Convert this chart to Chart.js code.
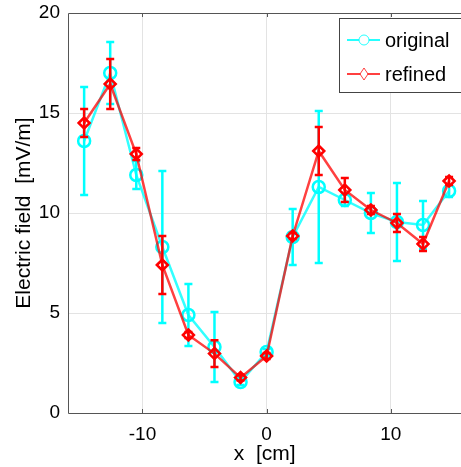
<!DOCTYPE html>
<html>
<head>
<meta charset="utf-8">
<script src="https://cdn.jsdelivr.net/npm/chart.js@4/dist/chart.umd.min.js"></script>
<style>
  html, body { margin: 0; padding: 0; background: #fff; overflow: hidden; }
  #wrap { width: 470px; height: 467px; }
</style>
</head>
<body>
<div id="wrap"><canvas id="chartField"></canvas></div>
<script>
// positions along x [cm]
const xPos = [-14.7, -12.6, -10.5, -8.4, -6.3, -4.2, -2.1, 0, 2.1, 4.2, 6.3, 8.4, 10.5, 12.6, 14.7];
// original measurement + error
const originalVals = [13.6, 17.0, 11.9, 8.3, 4.9, 3.3, 1.55, 3.05, 8.8, 11.3, 10.65, 10.0, 9.55, 9.4, 11.1];
const originalErr  = [2.7, 1.55, 0.7, 3.8, 1.55, 1.75, 0.15, 0.15, 1.4, 3.8, 0.3, 1.0, 1.95, 1.2, 0.3];
// refined
const refinedVals = [14.5, 16.45, 12.95, 7.4, 3.9, 2.97, 1.77, 2.85, 8.85, 13.1, 11.15, 10.15, 9.5, 8.45, 11.6];
const refinedErr  = [0.7, 1.25, 0.3, 1.45, 0.15, 0.67, 0.15, 0.15, 0.15, 1.2, 0.6, 0.2, 0.45, 0.35, 0.2];

const xTicks = [-10, 0, 10];
const seriesNames = ["original", "refined"];

const FONT = "'Liberation Sans', Arial, sans-serif";
const CYAN = "#00ffff";
const RED = "#ff0000";

const toPoints = (vals) => vals.map((v, i) => ({ x: xPos[i], y: v }));

// error bars, drawn under each dataset's own line
const errorBars = {
  id: "errorBars",
  beforeDatasetDraw(chart, args) {
    const ds = chart.data.datasets[args.index];
    if (!ds.errors) return;
    const { ctx, scales } = chart;
    ctx.save();
    ctx.strokeStyle = ds.errColor;
    ctx.lineWidth = ds.errWidth;
    ds.data.forEach((p, i) => {
      const px = scales.x.getPixelForValue(p.x);
      const yt = scales.y.getPixelForValue(p.y + ds.errors[i]);
      const yb = scales.y.getPixelForValue(p.y - ds.errors[i]);
      ctx.beginPath();
      ctx.moveTo(px, yt); ctx.lineTo(px, yb);
      ctx.moveTo(px - 4, yt); ctx.lineTo(px + 4, yt);
      ctx.moveTo(px - 4, yb); ctx.lineTo(px + 4, yb);
      ctx.stroke();
    });
    ctx.restore();
  }
};

// box lines + inner ticks + legend
const frameAndLegend = {
  id: "frameAndLegend",
  afterDraw(chart) {
    const { ctx, chartArea: a, scales } = chart;
    ctx.save();
    ctx.strokeStyle = "#555";
    ctx.lineWidth = 1;
    ctx.beginPath();
    ctx.moveTo(a.right + 5, a.top + 0.5); ctx.lineTo(a.left + 0.5, a.top + 0.5);
    ctx.lineTo(a.left + 0.5, a.bottom + 0.5); ctx.lineTo(a.right + 5, a.bottom + 0.5);
    xTicks.forEach(t => {
      const px = Math.round(scales.x.getPixelForValue(t)) + 0.5;
      ctx.moveTo(px, a.top); ctx.lineTo(px, a.top + 4);
      ctx.moveTo(px, a.bottom); ctx.lineTo(px, a.bottom - 4);
    });
    ctx.stroke();

    // legend box
    const lx = 339, ly = 18;
    ctx.fillStyle = "#fff";
    ctx.fillRect(lx, ly, 140, 74);
    ctx.strokeStyle = "#444";
    ctx.strokeRect(lx + 0.5, ly + 0.5, 140, 74);
    const rows = [
      { name: seriesNames[0], color: "rgba(0,255,255,0.85)", y: 40, marker: "circle" },
      { name: seriesNames[1], color: "rgba(255,0,0,0.75)", y: 74, marker: "diamond" }
    ];
    rows.forEach(r => {
      ctx.strokeStyle = r.color;
      ctx.lineWidth = 2;
      ctx.beginPath();
      ctx.moveTo(347, r.y); ctx.lineTo(380, r.y);
      ctx.stroke();
      ctx.lineWidth = 1;
      ctx.beginPath();
      if (r.marker === "circle") {
        ctx.arc(364, r.y, 5, 0, Math.PI * 2);
      } else {
        ctx.moveTo(364, r.y - 6); ctx.lineTo(368, r.y);
        ctx.lineTo(364, r.y + 6); ctx.lineTo(360, r.y); ctx.closePath();
      }
      ctx.fillStyle = "#fff";
      ctx.fill();
      ctx.stroke();
      ctx.fillStyle = "#000";
      ctx.font = "20px " + FONT;
      ctx.textBaseline = "middle";
      ctx.fillText(r.name, 385, r.y + 1);
    });
    ctx.restore();
  }
};

document.addEventListener("DOMContentLoaded", function () {
  const ctx = document.getElementById("chartField");
  new Chart(ctx, {
    type: "line",
    data: {
      datasets: [
        {
          label: seriesNames[0],
          data: toPoints(originalVals),
          errors: originalErr,
          errColor: CYAN,
          errWidth: 2.5,
          borderColor: "rgba(0,255,255,0.8)",
          borderWidth: 2.5,
          pointStyle: "circle",
          pointRadius: 6,
          pointBorderWidth: 2.5,
          pointBorderColor: CYAN,
          pointBackgroundColor: "rgba(0,0,0,0)",
          order: 2
        },
        {
          label: seriesNames[1],
          data: toPoints(refinedVals),
          errors: refinedErr,
          errColor: RED,
          errWidth: 2.5,
          borderColor: "rgba(255,0,0,0.75)",
          borderWidth: 2.5,
          pointStyle: "rectRot",
          pointRadius: 5.5,
          pointBorderWidth: 2.5,
          pointBorderColor: RED,
          pointBackgroundColor: "rgba(0,0,0,0)",
          order: 1
        }
      ]
    },
    options: {
      responsive: true,
      maintainAspectRatio: false,
      animation: false,
      layout: { padding: { top: 13, right: 0, left: 0, bottom: 0 } },
      plugins: { legend: { display: false }, tooltip: { enabled: false } },
      scales: {
        x: {
          type: "linear",
          min: -16,
          max: 15.7,
          afterBuildTicks: (s) => { s.ticks = xTicks.map(v => ({ value: v })); },
          afterFit: (s) => { s.height = 54; s.paddingLeft = 0; s.paddingRight = 0; },
          grid: { color: "#e3e3e3", drawTicks: false },
          border: { display: false },
          ticks: { color: "#000", font: { family: FONT, size: 19 }, padding: 10 },
          title: { display: true, text: "x  [cm]", color: "#000", font: { family: FONT, size: 21 }, padding: { top: 0, bottom: 0 } }
        },
        y: {
          min: 0,
          max: 20,
          ticks: { stepSize: 5, color: "#000", font: { family: FONT, size: 19 }, padding: 8 },
          afterFit: (s) => { s.width = 68; s.paddingTop = 0; s.paddingBottom = 0; },
          grid: { color: (c) => (c.tick.value === 0 || c.tick.value === 20) ? "rgba(0,0,0,0)" : "#e3e3e3", drawTicks: false },
          border: { display: false },
          title: { display: true, text: "Electric field  [mV/m]", color: "#000", font: { family: FONT, size: 21 }, padding: { top: 12, bottom: 0 } }
        }
      }
    },
    plugins: [errorBars, frameAndLegend]
  });
});
</script>
</body>
</html>
